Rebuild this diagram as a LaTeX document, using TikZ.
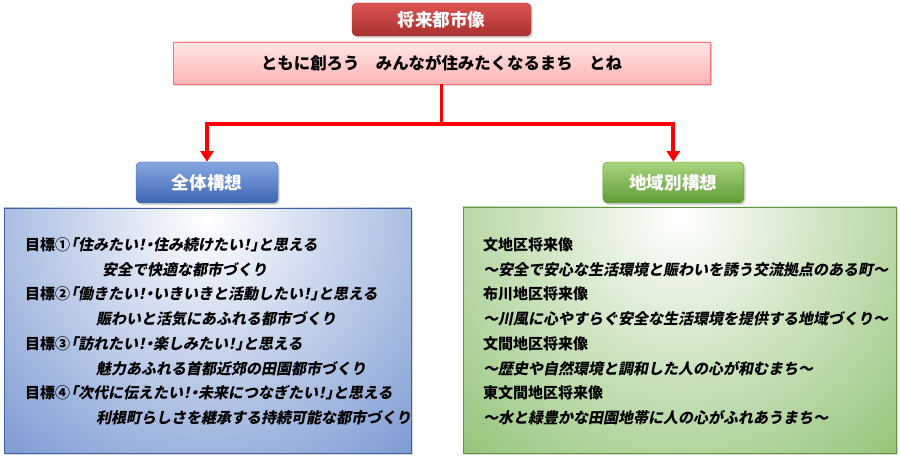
\documentclass[tikz,border=0pt]{standalone}
\usepackage{fontspec}
\setmainfont{Noto Sans CJK JP}
\newfontfamily\halfpunct[RawFeature=+halt]{Noto Sans CJK JP}
\usetikzlibrary{arrows.meta, shadows}

\definecolor{redtop}{HTML}{DC5552}
\definecolor{redbot}{HTML}{A8302D}
\definecolor{bluetop}{HTML}{86A8E2}
\definecolor{bluebot}{HTML}{3D66B2}
\definecolor{greentop}{HTML}{A9D57E}
\definecolor{greenbot}{HTML}{5F9C36}
\definecolor{pinktop}{HTML}{FFE6E6}
\definecolor{pinkbot}{HTML}{FFB4B4}
\definecolor{wholeblue}{HTML}{4A73C2}
\definecolor{areagreen}{HTML}{70B04A}

\begin{document}
\begin{tikzpicture}[
    title/.style={rounded corners=4pt, text=white, font=\bfseries\fontsize{15}{18}\selectfont,
        drop shadow={opacity=.35, shadow xshift=.05cm, shadow yshift=-.06cm}},
    banner/.style={draw=red!55, top color=pinktop, bottom color=pinkbot, font=\bfseries\fontsize{14}{17}\selectfont,
        minimum width=16.11cm, minimum height=1.26cm,
        drop shadow={opacity=.3, shadow xshift=.05cm, shadow yshift=-.06cm}},
    panel/.style={draw=#1!85!black, fill=#1, inner sep=0,
        drop shadow={opacity=.3, shadow xshift=.05cm, shadow yshift=-.06cm},
        path picture={\shade[inner color=white, outer color=#1] ([yshift=-.3cm]path picture bounding box.north) circle (13cm);}},
    line/.style={anchor=base west, inner sep=0, font=\bfseries\fontsize{12.8}{15}\selectfont},
    slant/.style={line, xslant=.2, transform shape},
    flow/.style={draw=red, line width=3.4pt, -{Triangle[width=11pt,length=9pt]}}
]
\useasboundingbox (0,0) rectangle (27,13.77);

% top
\node[title, minimum width=5.37cm, minimum height=.99cm, draw=redbot, top color=redtop, bottom color=redbot] (vision) at (13.245,13.185) {将来都市像};
\node[banner] (motto) at (13.245,11.88) {ともに創ろう　みんなが住みたくなるまち　とね};
\coordinate (joint) at (13.245,10.05);

% two plans
\node[title, minimum width=4.26cm, minimum height=1.23cm, draw=bluebot, top color=bluetop, bottom color=bluebot] (whole) at (6.21,8.295) {全体構想};
\node[title, minimum width=4.23cm, minimum height=1.23cm, draw=greenbot, top color=greentop, bottom color=greenbot] (area) at (20.2,8.295) {地域別構想};

\draw[flow] (motto.south) -- (joint) -| (whole.north);
\draw[flow] (joint) -| (area.north);

\node[panel=wholeblue, minimum width=12.21cm, minimum height=7.35cm] (wholebox) at (6.225,3.855) {};
\node[panel=areagreen, minimum width=12.99cm, minimum height=7.38cm] (areabox) at (20.385,3.87) {};

% goals
\node[line] (g1) at (0.75,6.25) {目標①};
\node[slant] (g1t) at (g1.base east) {\halfpunct 「住みたい！・住み続けたい！」と思える};
\node[slant] (g1s) at (3.06,5.51) {安全で快適な都市づくり};
\node[line] (g2) at (0.75,4.77) {目標②};
\node[slant] (g2t) at (g2.base east) {\halfpunct 「働きたい！・いきいきと活動したい！」と思える};
\node[slant] (g2s) at (2.88,4.03) {賑わいと活気にあふれる都市づくり};
\node[line] (g3) at (0.75,3.29) {目標③};
\node[slant] (g3t) at (g3.base east) {\halfpunct 「訪れたい！・楽しみたい！」と思える};
\node[slant] (g3s) at (2.88,2.55) {魅力あふれる首都近郊の田園都市づくり};
\node[line] (g4) at (0.75,1.81) {目標④};
\node[slant] (g4t) at (g4.base east) {\halfpunct 「次代に伝えたい！・未来につなぎたい！」と思える};
\node[slant] (g4s) at (2.88,1.07) {利根町らしさを継承する持続可能な都市づくり};

% districts
\node[line] (d1) at (14.49,6.25) {文地区将来像};
\node[slant] (d1s) at (14.49,5.51) {～安全で安心な生活環境と賑わいを誘う交流拠点のある町～};
\node[line] (d2) at (14.49,4.77) {布川地区将来像};
\node[slant] (d2s) at (14.49,4.03) {～川風に心やすらぐ安全な生活環境を提供する地域づくり～};
\node[line] (d3) at (14.49,3.29) {文間地区将来像};
\node[slant] (d3s) at (14.49,2.55) {～歴史や自然環境と調和した人の心が和むまち～};
\node[line] (d4) at (14.49,1.81) {東文間地区将来像};
\node[slant] (d4s) at (14.49,1.07) {～水と緑豊かな田園地帯に人の心がふれあうまち～};
\end{tikzpicture}
\end{document}
